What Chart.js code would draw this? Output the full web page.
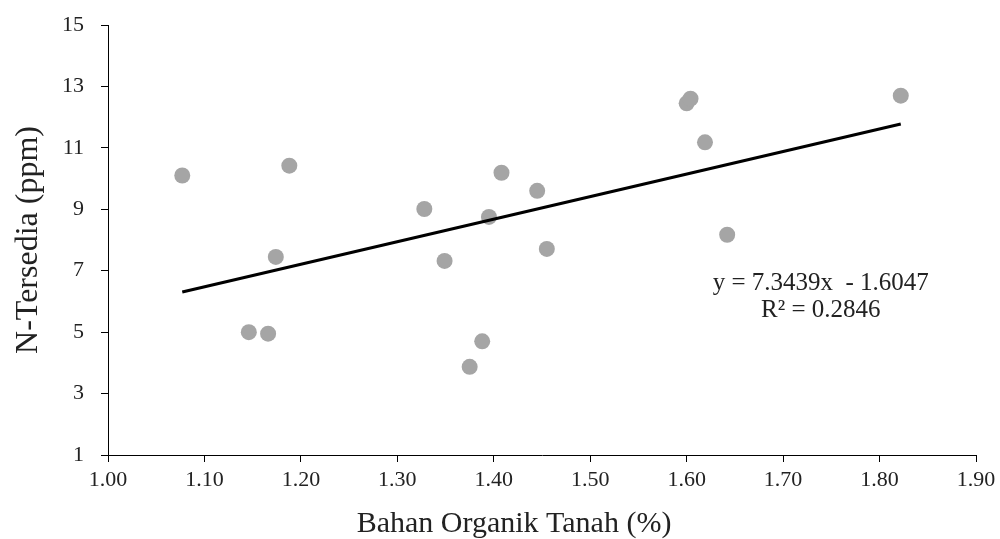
<!DOCTYPE html>
<html><head><meta charset="utf-8">
<script src="https://cdn.jsdelivr.net/npm/chart.js@4/dist/chart.umd.min.js"></script>
<style>html,body{margin:0;padding:0;background:#fff}#wrap{width:1000px;height:539px}</style>
</head><body><div id="wrap"><canvas id="c" width="1000" height="539"></canvas></div>
<script>
const bahanOrganik = [1.077,1.146,1.166,1.174,1.188,1.328,1.349,1.375,1.388,1.395,1.408,1.445,1.455,1.600,1.604,1.619,1.642,1.822];
const nTersedia   = [10.10,5.00,4.95,7.45,10.42,9.01,7.32,3.87,4.70,8.75,10.19,9.60,7.71,12.45,12.60,11.18,8.17,12.70];
const slope = 7.3439, intercept = -1.6047;
const trendX = [1.077, 1.822];
const xTicks = [1.0,1.1,1.2,1.3,1.4,1.5,1.6,1.7,1.8,1.9];
const yTicks = [1,3,5,7,9,11,13,15];
const eqLines = ['y = 7.3439x  - 1.6047', 'R\u00B2 = 0.2846'];
const xTitle = 'Bahan Organik Tanah (%)';
const yTitle = 'N-Tersedia (ppm)';

const scatterData = bahanOrganik.map((x,i)=>({x:x,y:nTersedia[i]}));
const trendData = trendX.map(x=>({x:x,y:slope*x+intercept}));
const serif = "'Liberation Serif','DejaVu Serif',serif";

const textPlugin = {
  id:'texts',
  afterDraw(chart){
    const {ctx, scales} = chart;
    const cx = scales.x.getPixelForValue(1.739);
    ctx.save();
    ctx.fillStyle = '#222';
    ctx.font = '25px ' + serif;
    ctx.textAlign = 'center';
    ctx.textBaseline = 'middle';
    ctx.fillText(eqLines[0], cx, scales.y.getPixelForValue(6.58));
    ctx.fillText(eqLines[1], cx, scales.y.getPixelForValue(5.70));
    ctx.font = '30px ' + serif;
    ctx.textBaseline = 'alphabetic';
    ctx.fillText(xTitle, 514, 532);
    ctx.restore();
  }
};

new Chart(document.getElementById('c'), {
  type:'scatter',
  data:{datasets:[
    {type:'line', data:trendData, borderColor:'#000', borderWidth:3, pointRadius:0, fill:false, order:0},
    {type:'scatter', data:scatterData, backgroundColor:'#a5a5a5', borderColor:'#a5a5a5', borderWidth:0, pointRadius:8, pointHoverRadius:8, order:1}
  ]},
  options:{
    responsive:false, animation:false,
    layout:{padding:{top:25,right:24,left:0,bottom:0}},
    plugins:{legend:{display:false}, tooltip:{enabled:false}},
    scales:{
      x:{type:'linear', min:1.0, max:1.9,
        afterBuildTicks(s){ s.ticks = xTicks.map(v=>({value:v})); },
        afterFit(s){ s.height = 84; s.paddingLeft = 0; s.paddingRight = 0; },
        ticks:{callback:v=>Number(v).toFixed(2), color:'#222', font:{family:serif,size:22}, padding:5, maxRotation:0, autoSkip:false},
        grid:{drawOnChartArea:false, drawTicks:true, tickLength:7, color:'#000'},
        border:{display:true, color:'#000', width:1},
        title:{display:false}
      },
      y:{type:'linear', min:1, max:15,
        afterBuildTicks(s){ s.ticks = yTicks.map(v=>({value:v})); },
        afterFit(s){ s.width = 108; s.paddingTop = 0; s.paddingBottom = 0; },
        ticks:{color:'#222', font:{family:serif,size:22}, padding:17, autoSkip:false},
        grid:{drawOnChartArea:false, drawTicks:true, tickLength:7, color:'#000'},
        border:{display:true, color:'#000', width:1},
        title:{display:true, text:yTitle, color:'#222', font:{family:serif,size:32}, padding:{top:9,bottom:0}}
      }
    }
  },
  plugins:[textPlugin]
});
</script></body></html>
